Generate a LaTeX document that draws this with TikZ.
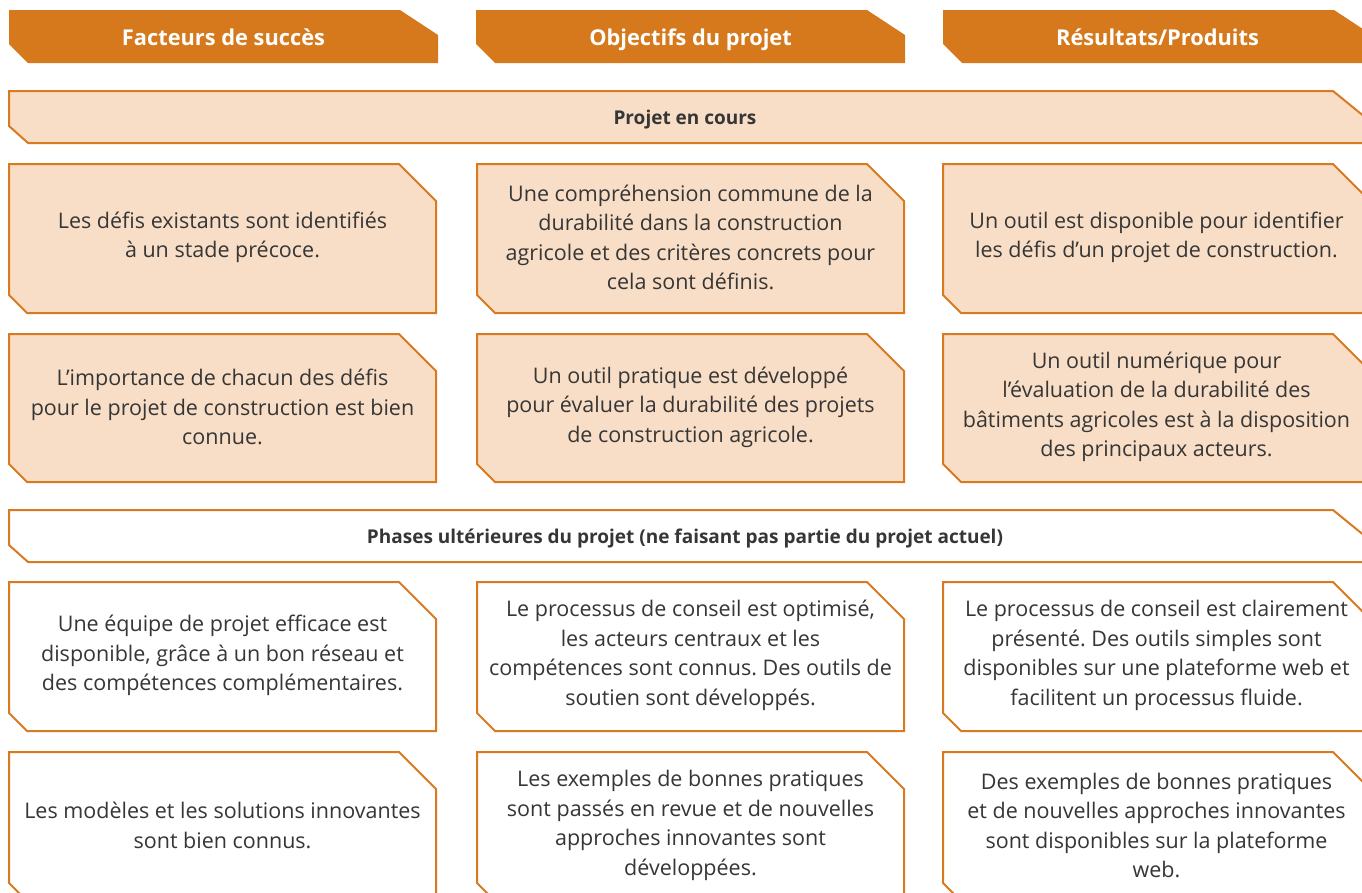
\documentclass[tikz,border=0pt]{standalone}
\usepackage{fontspec}
\setmainfont{Open Sans}
\frenchspacing
\definecolor{hdr}{HTML}{D6791C}
\definecolor{edge}{HTML}{D97A20}
\definecolor{peach}{HTML}{F8DEC6}
\definecolor{txt}{HTML}{363636}
\tikzset{
  boxtext/.style={align=center,inner sep=0pt,text=txt,font=\fontsize{21.5}{29.5}\selectfont},
  hdrtext/.style={align=center,inner sep=0pt,anchor=base,text=white,font=\bfseries\fontsize{21.8}{24}\selectfont},
  bantext/.style={align=center,inner sep=0pt,anchor=base,text=txt,font=\bfseries\fontsize{19}{24}\selectfont},
  peachbox/.style={draw=edge,fill=peach,line width=2pt,line join=miter},
  whitebox/.style={draw=edge,fill=white,line width=2pt,line join=miter},
  hdrbox/.style={fill=hdr,draw=none},
}
% #1 name, #2 x, #3 y, #4 w, #5 h, #6 style, #7 text
\newcommand\chbox[7]{%
  \draw[#6] (#2,#3) -- ++(#4-37,0) -- ++(37,37) -- (#2+#4,#3+#5) -- (#2+18,#3+#5) -- ++(-18,-18) -- cycle;
  \node[boxtext] (#1) at (#2+#4/2,#3+#5/2-1) {#7};}
% header: #1 name, #2 x, #3 text
\newcommand\hdrbar[3]{%
  \fill[hdrbox] (#2,10) -- ++(391,0) -- ++(38,25) -- (#2+429,63) -- (#2+19,63) -- ++(-19,-19) -- cycle;
  \node[hdrtext] (#1) at (#2+214.5,45) {#3};}
% banner: #1 name, #2 y, #3 style, #4 text
\newcommand\banbar[4]{%
  \draw[#3] (9,#2) -- (1333,#2) -- ++(38,31) -- (1371,#2+52) -- (28,#2+52) -- ++(-19,-17) -- cycle;
  \node[bantext] (#1) at (685,#2+33) {#4};}
\begin{document}
\begin{tikzpicture}[x=1pt,y=-1pt]
\path[use as bounding box,clip] (0,0) rectangle (1362,892);
\hdrbar{h1}{9}{Facteurs de succès}
\hdrbar{h2}{476}{Objectifs du projet}
\hdrbar{h3}{943}{Résultats/Produits}
\banbar{b1}{91}{peachbox}{Projet en cours}
\chbox{r1c1}{9}{164}{427}{149}{peachbox}{Les défis existants sont identifiés\\à un stade précoce.}
\chbox{r1c2}{477}{164}{427}{149}{peachbox}{Une compréhension commune de la\\durabilité dans la construction\\agricole et des critères concrets pour\\cela sont définis.}
\chbox{r1c3}{943}{164}{427}{149}{peachbox}{Un outil est disponible pour identifier\\les défis d’un projet de construction.}
\chbox{r2c1}{9}{334}{427}{148}{peachbox}{L’importance de chacun des défis\\pour le projet de construction est bien\\connue.}
\chbox{r2c2}{477}{334}{427}{148}{peachbox}{Un outil pratique est développé\\pour évaluer la durabilité des projets\\de construction agricole.}
\chbox{r2c3}{943}{334}{427}{148}{peachbox}{Un outil numérique pour\\l’évaluation de la durabilité des\\bâtiments agricoles est à la disposition\\des principaux acteurs.}
\banbar{b2}{510}{whitebox}{Phases ultérieures du projet (ne faisant pas partie du projet actuel)}
\chbox{r3c1}{9}{582}{427}{149}{whitebox}{Une équipe de projet efficace est\\disponible, grâce à un bon réseau et\\des compétences complémentaires.}
\chbox{r3c2}{477}{582}{427}{149}{whitebox}{Le processus de conseil est optimisé,\\les acteurs centraux et les\\compétences sont connus. Des outils de\\soutien sont développés.}
\chbox{r3c3}{943}{582}{427}{149}{whitebox}{Le processus de conseil est clairement\\présenté. Des outils simples sont\\disponibles sur une plateforme web et\\facilitent un processus fluide.}
\chbox{r4c1}{9}{752}{427}{149}{whitebox}{Les modèles et les solutions innovantes\\sont bien connus.}
\chbox{r4c2}{477}{752}{427}{149}{whitebox}{Les exemples de bonnes pratiques\\sont passés en revue et de nouvelles\\approches innovantes sont\\développées.}
\chbox{r4c3}{943}{752}{427}{149}{whitebox}{Des exemples de bonnes pratiques\\et de nouvelles approches innovantes\\sont disponibles sur la plateforme\\web.}
\end{tikzpicture}
\end{document}
